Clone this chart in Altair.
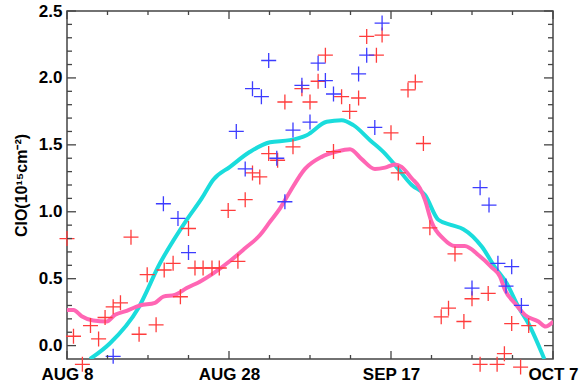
import altair as alt
import pandas as pd

# ---- data (day 0 = AUG 8) ----
red_day = [0.0, 0.8, 1.9, 2.9, 3.9, 4.7, 5.7, 6.6, 7.9, 8.9, 9.9, 11.0, 12.0, 13.1, 14.0,
           15.0, 15.8, 16.8, 17.9, 18.8, 19.9, 21.1, 22.0, 22.9, 23.8, 24.9, 26.0, 26.9,
           27.9, 29.0, 30.0, 31.0, 31.9, 32.9, 33.9, 34.9, 36.0, 37.0, 38.2, 38.9, 40.0,
           40.9, 42.1, 43.0, 44.0, 44.8, 46.2, 47.1, 47.9, 49.0, 50.0, 51.0, 52.0, 53.1,
           54.0, 54.9, 56.0, 57.0]
red_val = [0.80, 0.07, -0.14, 0.15, 0.05, 0.21, 0.29, 0.32, 0.81, 0.085, 0.53, 0.155, 0.565,
           0.615, 0.365, 0.875, 0.58, 0.58, 0.58, 0.58, 1.01, 0.63, 1.09, 1.29, 1.26, 1.435,
           1.385, 1.82, 1.485, 1.92, 1.82, 1.975, 2.17, 1.45, 1.86, 1.75, 1.85, 2.31, 2.17,
           2.32, 1.59, 1.29, 1.91, 1.97, 1.51, 0.88, 0.215, 0.28, 0.685, 0.18, 0.35, -0.14,
           0.39, -0.14, -0.06, 0.165, -0.16, 0.15]

blue_day = [5.7, 11.9, 13.7, 15.0, 20.9, 22.0, 22.9, 24.0, 24.9, 25.9, 26.9, 27.9, 29.0,
            30.0, 31.0, 31.9, 32.9, 36.0, 37.0, 38.0, 38.9, 50.0, 51.0, 52.1, 53.2, 54.2,
            54.9, 56.1]
blue_val = [-0.08, 1.06, 0.95, 0.695, 1.60, 1.32, 1.92, 1.86, 2.13, 1.40, 1.075, 1.61, 1.945,
            1.67, 2.11, 1.98, 1.88, 2.03, 2.17, 1.63, 2.41, 0.43, 1.18, 1.05, 0.615, 0.445,
            0.59, 0.30]

cyan_day = [2.84, 5.31, 8.80, 11.48, 14.78, 16.63, 18.06, 20.12, 22.59, 25.06, 27.53, 29.59,
            32.06, 33.91, 35.35, 37.41, 39.05, 40.49, 42.56, 44.2, 45.84, 47.49, 48.93,
            51.2, 52.84, 54.28, 55.72, 56.95, 58.93]
cyan_val = [-0.10, 0.018, 0.28, 0.615, 0.94, 1.10, 1.24, 1.336, 1.448, 1.52, 1.535, 1.572,
            1.672, 1.684, 1.647, 1.535, 1.448, 1.35, 1.20, 1.125, 0.94, 0.90, 0.87, 0.74,
            0.585, 0.466, 0.29, 0.167, -0.10]

pink_day = [0.0, 0.8, 1.81, 3.25, 4.9, 5.93, 7.37, 9.0, 10.86, 11.9, 13.3, 14.78, 16.4,
            18.06, 20.12, 21.98, 23.83, 25.06, 26.3, 27.53, 29.38, 31.44, 33.3, 34.94,
            36.38, 38.02, 39.26, 40.49, 41.3, 42.55, 43.58, 44.2, 45.0, 46.46, 47.9, 49.1,
            50.78, 52.43, 53.46, 54.07, 55.3, 56.54, 58.2, 59.1, 60.04]
pink_val = [0.266, 0.266, 0.22, 0.187, 0.18, 0.23, 0.26, 0.30, 0.32, 0.366, 0.378, 0.43,
            0.478, 0.54, 0.632, 0.727, 0.826, 0.925, 1.025, 1.15, 1.32, 1.41, 1.45, 1.468,
            1.393, 1.32, 1.33, 1.354, 1.336, 1.25, 1.175, 1.087, 0.925, 0.80, 0.744, 0.744,
            0.677, 0.585, 0.515, 0.416, 0.316, 0.229, 0.18, 0.142, 0.18]

x_tick_days = [0, 20, 40, 60]
x_tick_labels = ["AUG 8", "AUG 28", "SEP 17", "OCT 7"]
x_minor_days = [5, 10, 15, 25, 30, 35, 45, 50, 55]
y_tick_values = [0.0, 0.5, 1.0, 1.5, 2.0, 2.5]
y_minor_values = [0.1, 0.2, 0.3, 0.4, 0.6, 0.7, 0.8, 0.9, 1.1, 1.2, 1.3, 1.4,
                  1.6, 1.7, 1.8, 1.9, 2.1, 2.2, 2.3, 2.4]
y_title = "ClO(10¹⁵cm⁻²)"

# ---- layout ----
W, H = 486, 348
FONT = "Liberation Sans"
RED, BLUE, CYAN, PINK, FRAME = "#ff3c3c", "#3c3cff", "#1adcdc", "#ff66b4", "#444444"
CROSS = "M-1,0L1,0M0,-1L0,1"

label_expr = " : ".join(
    f"datum.value == {d} ? '{l}'" for d, l in zip(x_tick_days, x_tick_labels)
) + " : ''"

xs = alt.Scale(domain=[0, 60], nice=False, zero=False)
ys = alt.Scale(domain=[-0.1, 2.5], nice=False, zero=False)
xaxis = alt.Axis(values=x_tick_days, labelExpr=label_expr, ticks=False, domain=False,
                 grid=False, labelFont=FONT, labelFontWeight="bold", labelFontSize=17,
                 labelColor="black", labelPadding=7, title=None, labelFlush=False)
yaxis = alt.Axis(values=y_tick_values, format=".1f", ticks=False, domain=False, grid=False,
                 labelFont=FONT, labelFontWeight="bold", labelFontSize=17,
                 labelColor="black", labelPadding=5, title=y_title, titleFont=FONT,
                 titleFontWeight="bold", titleFontSize=16, titleColor="black",
                 titlePadding=9)


def X(f):
    return alt.X(f"{f}:Q", scale=xs, axis=xaxis)


def Y(f):
    return alt.Y(f"{f}:Q", scale=ys, axis=yaxis)


red_df = pd.DataFrame({"day": red_day, "val": red_val})
blue_df = pd.DataFrame({"day": blue_day, "val": blue_val})
cyan_df = pd.DataFrame({"day": cyan_day, "val": cyan_val})
pink_df = pd.DataFrame({"day": pink_day, "val": pink_val})

cyan = alt.Chart(cyan_df).mark_line(color=CYAN, strokeWidth=4, interpolate="monotone",
                                     clip=True).encode(x=X("day"), y=Y("val"))
pink = alt.Chart(pink_df).mark_line(color=PINK, strokeWidth=4, interpolate="monotone",
                                     clip=True).encode(x=X("day"), y=Y("val"))
red = alt.Chart(red_df).mark_point(shape=CROSS, size=225, strokeWidth=1.3, color=RED,
                                   filled=False, opacity=1).encode(x=X("day"), y=Y("val"))
blue = alt.Chart(blue_df).mark_point(shape=CROSS, size=225, strokeWidth=1.3, color=BLUE,
                                     filled=False, opacity=1).encode(x=X("day"), y=Y("val"))

# inward tick marks on all four sides
xmaj = pd.DataFrame({"t": x_tick_days})
xmin = pd.DataFrame({"t": x_minor_days})
ymaj = pd.DataFrame({"t": y_tick_values})
ymin = pd.DataFrame({"t": y_minor_values})


def xticks(df, length):
    bot = alt.Chart(df).mark_rule(color=FRAME, strokeWidth=1.3).encode(
        x=X("t"), y=alt.value(H - length), y2=alt.value(H))
    top = alt.Chart(df).mark_rule(color=FRAME, strokeWidth=1.3).encode(
        x=X("t"), y=alt.value(0), y2=alt.value(length))
    return [bot, top]


def yticks(df, length):
    left = alt.Chart(df).mark_rule(color=FRAME, strokeWidth=1.3).encode(
        y=Y("t"), x=alt.value(0), x2=alt.value(length))
    right = alt.Chart(df).mark_rule(color=FRAME, strokeWidth=1.3).encode(
        y=Y("t"), x=alt.value(W - length), x2=alt.value(W))
    return [left, right]


tick_layers = xticks(xmaj, 8) + xticks(xmin, 4) + yticks(ymaj, 9) + yticks(ymin, 5)

chart = alt.layer(cyan, pink, red, blue, *tick_layers).properties(
    width=W, height=H,
    padding={"left": 67, "top": 11, "right": 26, "bottom": 29},
    autosize=alt.AutoSizeParams(type="none"),
    background="white",
).configure_view(stroke=FRAME, strokeWidth=1.5)

chart.save("out.html", embed_options={"renderer": "svg", "actions": False})
